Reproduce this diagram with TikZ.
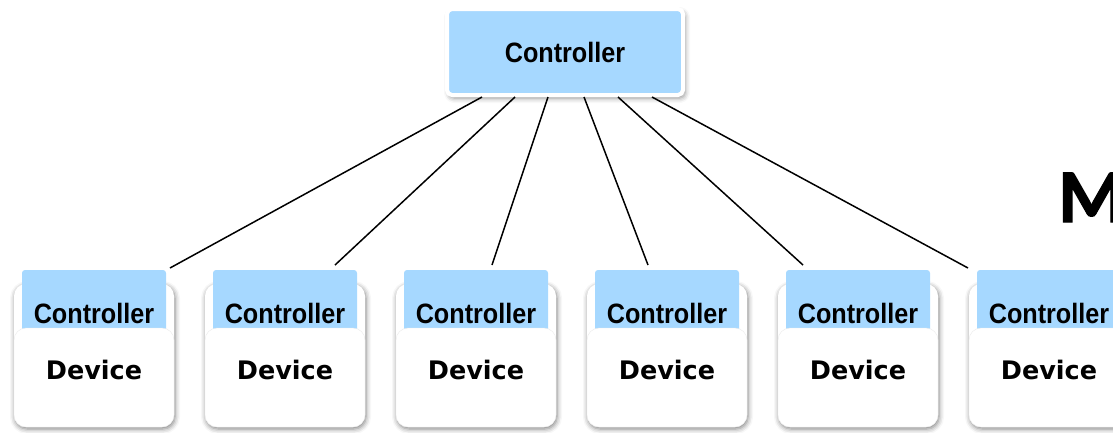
\documentclass[tikz,border=0pt]{standalone}
\usepackage{fontspec}
\usetikzlibrary{shadows.blur}
\newfontfamily\ctrlfont{Liberation Sans}[FakeStretch=0.9]
\newfontfamily\devfont{DejaVu Sans}
\newfontfamily\bigfont{Carlito}[BoldFeatures={FakeBold=1.6}]
\definecolor{ctrlblue}{RGB}{166,216,255}
\tikzset{
  topbox/.style={fill=ctrlblue, draw=white, line width=4pt, rounded corners=5pt,
    minimum width=236pt, minimum height=86pt, inner sep=0pt,
    blur shadow={shadow xshift=2pt, shadow yshift=-3pt, shadow opacity=45, shadow blur radius=5pt},
    font=\ctrlfont\bfseries\fontsize{28}{30}\selectfont},
  ctrlbox/.style={fill=ctrlblue, rounded corners=3pt, minimum width=144pt, minimum height=86pt,
    inner sep=0pt, font=\ctrlfont\bfseries\fontsize{28}{30}\selectfont},
  card/.style={fill=white, rounded corners=12pt,
    blur shadow={shadow xshift=1pt, shadow yshift=-2pt, shadow opacity=50, shadow blur radius=5pt}},
  devbox/.style={fill=white, draw=black!8, rounded corners=12pt, minimum width=160pt,
    minimum height=99pt, inner sep=0pt},
  devtxt/.style={inner sep=0pt, font=\devfont\bfseries\fontsize{25.5}{28}\selectfont},
  link/.style={line width=1.5pt, black}
}
\begin{document}
\begin{tikzpicture}[x=1pt,y=-1pt]
\useasboundingbox (0,0) rectangle (1113,432);
% bottom units
\foreach \i in {1,...,6}{
  \pgfmathsetmacro\cx{94+191*(\i-1)}
  \path[card] (\cx-80,284) rectangle (\cx+80,427);
  \node[ctrlbox] (c\i) at (\cx,313) {Controller};
  \node[devbox] (d\i) at (\cx,377.5) {};
  \node[devtxt] (t\i) at (\cx,370) {Device};
}
% top controller
\node[topbox] (top) at (565,52) {Controller};
% connector endpoints
\coordinate (s1) at (482,97);
\coordinate (s2) at (515,97);
\coordinate (s3) at (548,97);
\coordinate (s4) at (584,97);
\coordinate (s5) at (618,97);
\coordinate (s6) at (652,97);
\coordinate (e1) at (170,268);
\coordinate (e2) at (335,265);
\coordinate (e3) at (492,265);
\coordinate (e4) at (648,265);
\coordinate (e5) at (803,265);
\coordinate (e6) at (968,268);
\foreach \i in {1,...,6}{
  \draw[link] (s\i) -- (e\i);
}
\node[anchor=base west, inner sep=0pt, font=\bigfont\bfseries\fontsize{76}{80}\selectfont] (m) at (1058,222) {M};
\end{tikzpicture}
\end{document}
